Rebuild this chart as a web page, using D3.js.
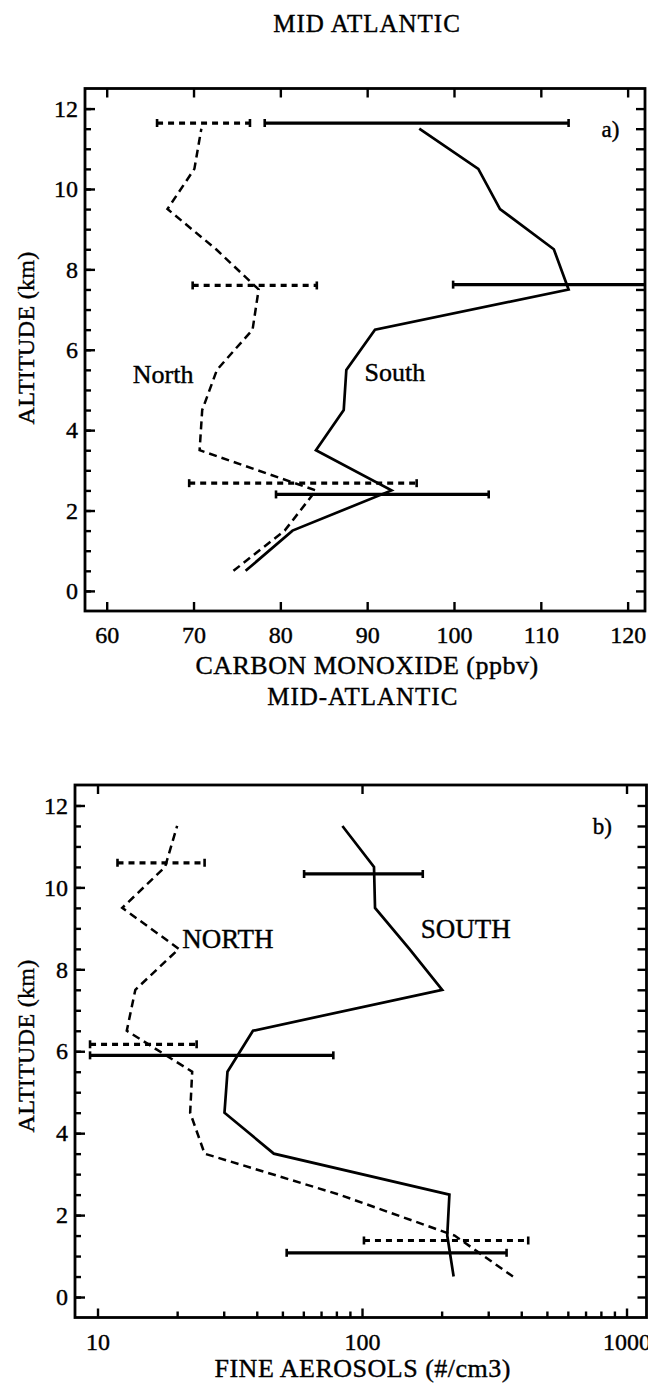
<!DOCTYPE html>
<html>
<head>
<meta charset="utf-8">
<script src="https://cdn.jsdelivr.net/npm/d3@7"></script>
<style>
  html, body { margin: 0; padding: 0; background: #fff; }
  svg { display: block; }
  text { font-family: "Liberation Serif", "Times New Roman", serif; fill: #000; stroke: #000; stroke-width: 0.4px; }
</style>
</head>
<body>
<svg id="fig" width="648" height="1385"></svg>
<script>
// Altitude levels (km) of the layer means
const altitudes = [0.5, 1.5, 2.5, 3.5, 4.5, 5.5, 6.5, 7.5, 8.5, 9.5, 10.5, 11.5];

// Panel a) carbon monoxide (ppbv)
const coNorth = [74.6, 80.5, 84.1, 70.7, 71.0, 72.7, 76.8, 77.5, 72.6, 67.0, 70.1, 70.9];
const coSouth = [76.0, 81.4, 92.8, 84.1, 87.3, 87.6, 90.9, 113.2, 111.5, 105.3, 102.8, 96.0];
const coNorthErr = [
  { alt: 11.64, lo: 65.8, hi: 76.5 },
  { alt: 7.6, lo: 69.9, hi: 84.2 },
  { alt: 2.68, lo: 69.5, hi: 95.7 }
];
const coSouthErr = [
  { alt: 11.64, lo: 78.2, hi: 113.2 },
  { alt: 7.62, lo: 99.9, hi: 126 },
  { alt: 2.4, lo: 79.5, hi: 104.0 }
];
const coTicks = [60, 70, 80, 90, 100, 110, 120];

// Panel b) fine aerosols (#/cm3)
const aeNorth = [372, 224, 82, 25.4, 22.4, 22.8, 12.9, 13.9, 20.3, 12.4, 18.0, 20.0];
const aeSouth = [222, 210, 214, 46.4, 30.2, 31.0, 38.7, 201, 151, 112, 111, 84.3];
const aeNorthErr = [
  { alt: 10.6, lo: 11.9, hi: 25.4 },
  { alt: 6.17, lo: 9.37, hi: 23.7 },
  { alt: 1.38, lo: 101.7, hi: 425 }
];
const aeSouthErr = [
  { alt: 10.33, lo: 60.4, hi: 169.7 },
  { alt: 5.9, lo: 9.37, hi: 77.9 },
  { alt: 1.08, lo: 51.9, hi: 352 }
];
const aeTicks = [10, 100, 1000];
const aeMinorTicks = [20, 30, 40, 50, 60, 70, 80, 90, 200, 300, 400, 500, 600, 700, 800, 900];

const altMajor = [0, 2, 4, 6, 8, 10, 12];
const altMinor = d3.range(0, 12.01, 0.5);

const svg = d3.select("#fig");

function panel(opts) {
  const { id, box, x, xTicks, xMinor, xFmt, title, titleY, xTitle, xTitleY,
          north, south, northErr, southErr, labels, yTitleY } = opts;
  const y = d3.scaleLinear().domain([-0.5, 12.5]).range([box.y1, box.y0]);
  x.range([box.x0, box.x1]);

  const g = svg.append("g");

  const clipId = "clip-" + id;
  g.append("clipPath").attr("id", clipId)
    .append("rect")
    .attr("x", box.x0).attr("y", box.y0)
    .attr("width", box.x1 - box.x0).attr("height", box.y1 - box.y0);

  const styleAxis = sel => {
    sel.select(".domain").remove();
    sel.selectAll(".tick line").attr("stroke", "#000").attr("stroke-width", 2.4);
    sel.selectAll(".tick text").attr("font-size", 24).attr("font-family", "Liberation Serif");
  };

  // bottom axis with labels
  g.append("g").attr("transform", `translate(0,${box.y1})`)
    .call(d3.axisBottom(x).tickValues(xTicks).tickFormat(xFmt).tickSize(-9).tickPadding(15))
    .call(styleAxis);
  if (xMinor) {
    g.append("g").attr("transform", `translate(0,${box.y1})`)
      .call(d3.axisBottom(x).tickValues(xMinor).tickFormat("").tickSize(-6))
      .call(styleAxis);
  }
  // top axis, ticks only
  g.append("g").attr("transform", `translate(0,${box.y0})`)
    .call(d3.axisTop(x).tickValues(xTicks).tickFormat("").tickSize(-9))
    .call(styleAxis);

  // left axis
  g.append("g").attr("transform", `translate(${box.x0},0)`)
    .call(d3.axisLeft(y).tickValues(altMinor).tickFormat("").tickSize(-6))
    .call(styleAxis);
  g.append("g").attr("transform", `translate(${box.x0},0)`)
    .call(d3.axisLeft(y).tickValues(altMajor).tickFormat(d3.format("d")).tickSize(-10).tickPadding(7))
    .call(styleAxis);
  // right axis
  g.append("g").attr("transform", `translate(${box.x1},0)`)
    .call(d3.axisRight(y).tickValues(altMinor).tickFormat("").tickSize(-9))
    .call(styleAxis);

  // frame
  g.append("rect")
    .attr("x", box.x0).attr("y", box.y0)
    .attr("width", box.x1 - box.x0).attr("height", box.y1 - box.y0)
    .attr("fill", "none").attr("stroke", "#000").attr("stroke-width", 2.8);

  const data = g.append("g").attr("clip-path", `url(#${clipId})`);

  const line = d3.line().x(d => x(d[0])).y(d => y(d[1]));

  data.append("path")
    .attr("d", line(north.map((v, i) => [v, altitudes[i]])))
    .attr("fill", "none").attr("stroke", "#000").attr("stroke-width", 2.5)
    .attr("stroke-dasharray", "8,5");
  data.append("path")
    .attr("d", line(south.map((v, i) => [v, altitudes[i]])))
    .attr("fill", "none").attr("stroke", "#000").attr("stroke-width", 2.7);

  const errBars = (list, dashed) => {
    list.forEach(e => {
      const yy = y(e.alt);
      data.append("line")
        .attr("x1", x(e.lo)).attr("x2", x(e.hi)).attr("y1", yy).attr("y2", yy)
        .attr("stroke", "#000").attr("stroke-width", 3.2)
        .attr("stroke-dasharray", dashed ? "6,5" : null);
      [e.lo, e.hi].forEach(v => {
        data.append("line")
          .attr("x1", x(v)).attr("x2", x(v)).attr("y1", yy - 4).attr("y2", yy + 4)
          .attr("stroke", "#000").attr("stroke-width", 2.6);
      });
    });
  };
  errBars(northErr, true);
  errBars(southErr, false);

  // in-plot labels
  labels.forEach(l => {
    g.append("text")
      .attr("x", x(l.v)).attr("y", y(l.alt))
      .attr("font-size", l.size)
      .text(l.text);
  });

  // titles
  const cx = (box.x0 + box.x1) / 2 + 2;
  svg.append("text").attr("x", cx).attr("y", titleY)
    .attr("text-anchor", "middle").attr("font-size", 25).attr("letter-spacing", 1)
    .text(title);
  svg.append("text").attr("x", cx).attr("y", xTitleY)
    .attr("text-anchor", "middle").attr("font-size", 26).attr("letter-spacing", 0.5)
    .text(xTitle);
  svg.append("text")
    .attr("transform", `translate(34,${yTitleY}) rotate(-90)`)
    .attr("text-anchor", "middle").attr("font-size", 24).attr("letter-spacing", 0.3)
    .text("ALTITUDE (km)");
}

panel({
  id: "co",
  box: { x0: 85, x1: 645, y0: 88.5, y1: 611 },
  x: d3.scaleLinear().domain([57.5, 122]),
  xTicks: coTicks,
  xMinor: null,
  xFmt: d3.format("d"),
  title: "MID ATLANTIC", titleY: 32,
  xTitle: "CARBON MONOXIDE (ppbv)", xTitleY: 674,
  north: coNorth, south: coSouth,
  northErr: coNorthErr, southErr: coSouthErr,
  labels: [
    { text: "North", v: 63.0, alt: 5.17, size: 26 },
    { text: "South", v: 89.7, alt: 5.22, size: 26 },
    { text: "a)", v: 117.0, alt: 11.29, size: 23 }
  ],
  yTitleY: 338
});

panel({
  id: "ae",
  box: { x0: 75, x1: 646.5, y0: 785, y1: 1317.5 },
  x: d3.scaleLog().domain([8.22, 1190]),
  xTicks: aeTicks,
  xMinor: aeMinorTicks,
  xFmt: d3.format("d"),
  title: "MID-ATLANTIC", titleY: 705,
  xTitle: "FINE AEROSOLS (#/cm3)", xTitleY: 1377,
  north: aeNorth, south: aeSouth,
  northErr: aeNorthErr, southErr: aeSouthErr,
  labels: [
    { text: "NORTH", v: 20.9, alt: 8.52, size: 27 },
    { text: "SOUTH", v: 166.7, alt: 8.76, size: 27 },
    { text: "b)", v: 746, alt: 11.30, size: 23 }
  ],
  yTitleY: 1046
});
</script>
</body>
</html>
